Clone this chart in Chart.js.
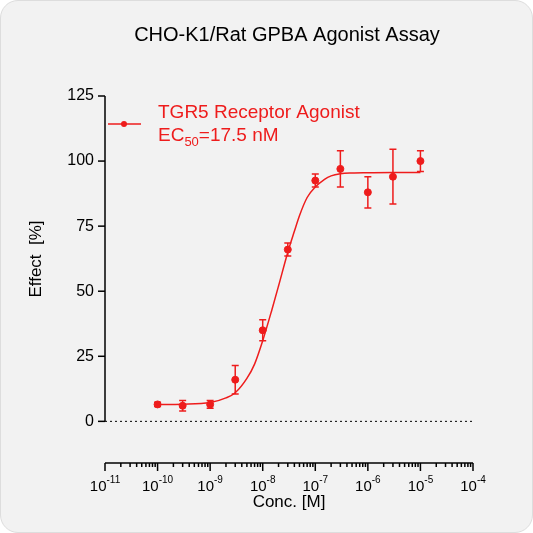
<!DOCTYPE html>
<html><head><meta charset="utf-8">
<script src="https://cdn.jsdelivr.net/npm/chart.js@4"></script>
<style>
html,body{margin:0;background:#fff;}
#wrap{position:absolute;left:0;top:0;width:531px;height:531px;background:#f2f2f2;border:1px solid #ddd;border-radius:18px;overflow:hidden}
</style></head><body>
<div id="wrap"><canvas id="c" width="531" height="531"></canvas></div>
<script>
const conc = [1e-10,3e-10,1e-9,3e-9,1e-8,3e-8,1e-7,3e-7,1e-6,3e-6,1e-5];
const effect = [6.5,6,6.5,16,35,66,92.5,97,88,94,100];
const errs = [0.8,2,1.5,5.5,4,2.5,2.5,7,6,10.5,4];
const fitX = [1e-10,3e-10,1e-9,2e-9,3e-9,5e-9,7e-9,1e-8,1.5e-8,2e-8,3e-8,4e-8,5e-8,7e-8,1e-7,1.5e-7,2e-7,3e-7,5e-7,1e-6,3e-6,1e-5];
const fitY = [6.5,6.6,7.2,9,11,16.5,22,31,43,52,65,73,79,86,90,93,94.3,95.1,95.4,95.5,95.6,95.6];
const yTicks = [0,25,50,75,100,125];
const xDecades = [-11,-10,-9,-8,-7,-6,-5,-4];
const RED = '#ee1c1c';
const F = '"Liberation Sans", Arial, sans-serif';

const deco = {
  id:'deco',
  afterDraw(ch){
    const c=ch.ctx, xs=ch.scales.x, ys=ch.scales.y, a=ch.chartArea;
    c.save();
    c.strokeStyle='#000';c.fillStyle='#000';c.lineWidth=1.5;
    // y axis
    const y0=ys.getPixelForValue(0);
    c.beginPath();c.moveTo(a.left,ys.getPixelForValue(125));c.lineTo(a.left,y0);c.stroke();
    c.font='16px '+F;c.textAlign='right';c.textBaseline='middle';
    yTicks.forEach(v=>{const p=ys.getPixelForValue(v);c.beginPath();c.moveTo(a.left-7,p);c.lineTo(a.left,p);c.stroke();c.fillText(String(v),a.left-11,p);});
    // dotted zero line
    c.setLineDash([2,3]);c.lineWidth=1;c.beginPath();c.moveTo(a.left,y0);c.lineTo(a.right,y0);c.stroke();c.setLineDash([]);
    // x axis
    c.lineWidth=1.5;const yb=a.bottom;
    c.beginPath();c.moveTo(a.left,yb);c.lineTo(a.right,yb);c.stroke();
    xDecades.forEach((d,i)=>{
      const p=xs.getPixelForValue(Math.pow(10,d));
      c.beginPath();c.moveTo(p,yb);c.lineTo(p,yb+8);c.stroke();
      if(i<xDecades.length-1){for(let k=2;k<10;k++){const q=xs.getPixelForValue(k*Math.pow(10,d));c.beginPath();c.moveTo(q,yb);c.lineTo(q,yb+4);c.stroke();}}
      const base='10',sup=String(d);
      c.font='15px '+F;const w1=c.measureText(base).width;c.font='10px '+F;const w2=c.measureText(sup).width;
      const sx=p-(w1+w2)/2;c.textAlign='left';c.textBaseline='alphabetic';
      c.font='15px '+F;c.fillText(base,sx,yb+28);c.font='10px '+F;c.fillText(sup,sx+w1,yb+20);
    });
    // titles
    c.textAlign='center';c.font='20px '+F;c.fillText('CHO-K1/Rat GPBA Agonist Assay',286,40);
    c.font='17px '+F;c.fillText('Conc. [M]',288,506);
    c.save();c.translate(40,258);c.rotate(-Math.PI/2);c.fillText('Effect  [%]',0,0);c.restore();
    // error bars
    c.strokeStyle=RED;c.lineWidth=1.5;
    conc.forEach((x,i)=>{const px=xs.getPixelForValue(x),t=ys.getPixelForValue(effect[i]+errs[i]),b=ys.getPixelForValue(effect[i]-errs[i]);
      c.beginPath();c.moveTo(px,t);c.lineTo(px,b);c.moveTo(px-3.5,t);c.lineTo(px+3.5,t);c.moveTo(px-3.5,b);c.lineTo(px+3.5,b);c.stroke();});
    // legend
    c.beginPath();c.moveTo(107,123);c.lineTo(140,123);c.stroke();
    c.fillStyle=RED;c.beginPath();c.arc(123,123,3,0,Math.PI*2);c.fill();
    c.textAlign='left';c.font='19px '+F;c.fillText('TGR5 Receptor Agonist',157,117);
    c.fillText('EC',157,140);let w=c.measureText('EC').width;c.font='13px '+F;c.fillText('50',157+w,145);
    const w2=c.measureText('50').width;c.font='19px '+F;c.fillText('=17.5 nM',157+w+w2,140);
    c.restore();
  }
};

new Chart(document.getElementById('c'),{
  type:'scatter',
  data:{datasets:[
    {data:fitX.map((x,i)=>({x,y:fitY[i]})),showLine:true,borderColor:RED,borderWidth:1.5,pointRadius:0,cubicInterpolationMode:'monotone'},
    {data:conc.map((x,i)=>({x,y:effect[i]})),pointRadius:3.5,pointBackgroundColor:RED,pointBorderColor:RED,showLine:false}
  ]},
  options:{responsive:false,animation:false,
    layout:{padding:{left:104,right:59,top:95,bottom:69}},
    plugins:{legend:{display:false},tooltip:{enabled:false}},
    scales:{x:{type:'logarithmic',min:1e-11,max:1e-4,display:false},y:{min:-16,max:125,display:false}}},
  plugins:[deco]
});
</script></body></html>
